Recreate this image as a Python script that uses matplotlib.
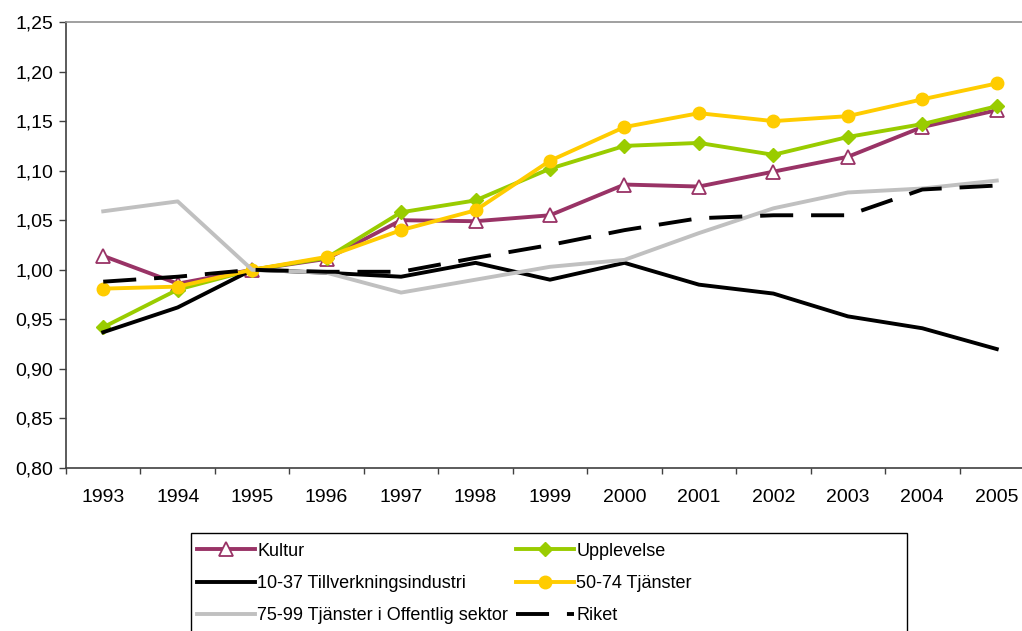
import matplotlib
matplotlib.use("Agg")
import matplotlib.pyplot as plt
from matplotlib.patches import Rectangle
from matplotlib.ticker import FixedLocator, FuncFormatter

plt.rcParams['font.family'] = ['Liberation Sans', 'DejaVu Sans']

years = ['1993', '1994', '1995', '1996', '1997', '1998', '1999',
         '2000', '2001', '2002', '2003', '2004', '2005']

kultur = [1.014, 0.986, 1.000, 1.011, 1.050, 1.049, 1.055,
          1.086, 1.084, 1.099, 1.114, 1.144, 1.161]
upplevelse = [0.942, 0.980, 1.000, 1.012, 1.058, 1.070, 1.102,
              1.125, 1.128, 1.116, 1.134, 1.147, 1.165]
tillverkning = [0.937, 0.962, 1.000, 0.997, 0.993, 1.007, 0.990,
                1.007, 0.985, 0.976, 0.953, 0.941, 0.920]
tjanster = [0.981, 0.983, 1.000, 1.013, 1.040, 1.060, 1.110,
            1.144, 1.158, 1.150, 1.155, 1.172, 1.188]
offentlig = [1.059, 1.069, 1.000, 0.997, 0.977, 0.990, 1.003,
             1.010, 1.037, 1.062, 1.078, 1.082, 1.090]
riket = [0.988, 0.993, 1.000, 0.998, 0.998, 1.012, 1.025,
         1.040, 1.052, 1.055, 1.055, 1.081, 1.085]

labels = ['Kultur', 'Upplevelse', '10-37 Tillverkningsindustri',
          '50-74 Tjänster', '75-99 Tjänster i Offentlig sektor', 'Riket']

fs = 14
fig = plt.figure(figsize=(10.22, 6.31), dpi=100)
ax = fig.add_axes([66 / 1022, 1 - 468 / 631, 968 / 1022, 446 / 631])

x = range(len(years))
lw = 2.8
h_kultur, = ax.plot(x, kultur, color='#993366', lw=lw, marker='^', ms=9.5,
                    mfc='white', mec='#993366', mew=1.3)
h_upp, = ax.plot(x, upplevelse, color='#99CC00', lw=lw, marker='D', ms=7.5,
                 mfc='#99CC00', mec='#99CC00')
h_till, = ax.plot(x, tillverkning, color='black', lw=lw)
h_tj, = ax.plot(x, tjanster, color='#FFCC00', lw=lw, marker='o', ms=9,
                mfc='#FFCC00', mec='#FFCC00')
h_off, = ax.plot(x, offentlig, color='#C0C0C0', lw=lw)
h_riket, = ax.plot(x, riket, color='black', lw=lw, dashes=(8.5, 4.6))

ax.set_xlim(-0.5, len(years) - 0.5)
ax.set_ylim(0.80, 1.25)
ax.yaxis.set_major_locator(FixedLocator([0.80 + 0.05 * i for i in range(10)]))
ax.yaxis.set_major_formatter(FuncFormatter(lambda v, p: f'{v:.2f}'.replace('.', ',')))

ax.set_xticks(list(x))
ax.set_xticklabels(years)
ax.set_xticks([i - 0.5 for i in range(len(years) + 1)], minor=True)
ax.tick_params(axis='x', which='major', length=0, pad=15, labelsize=fs)
ax.tick_params(axis='x', which='minor', length=4, width=1, color='#404040')
ax.tick_params(axis='y', length=5, width=1, pad=4, labelsize=fs, color='#404040')

for s in ['left', 'bottom']:
    ax.spines[s].set_color('#404040')
    ax.spines[s].set_linewidth(1.2)
ax.spines['top'].set_color('#909090')
ax.spines['top'].set_linewidth(1.2)
ax.spines['right'].set_visible(False)

# legend box is wider than its entries, like the spreadsheet original
box = Rectangle((191 / 1022, -10 / 631), 716 / 1022, (631 - 533 + 10) / 631,
                transform=fig.transFigure, fill=False, edgecolor='black', lw=1.0)
fig.patches.append(box)

handles = [h_kultur, h_till, h_off, h_upp, h_tj, h_riket]
order_labels = [labels[0], labels[2], labels[4], labels[1], labels[3], labels[5]]
leg = fig.legend(handles, order_labels, ncol=2, loc='upper left',
                 bbox_to_anchor=(193 / 1022, 1 - 539 / 631),
                 bbox_transform=fig.transFigure, borderaxespad=0,
                 fontsize=13, frameon=False,
                 handlelength=3.25, handletextpad=0.12, columnspacing=0.4,
                 labelspacing=0.85, borderpad=0.2)

fig.savefig('out.png', dpi=100)
